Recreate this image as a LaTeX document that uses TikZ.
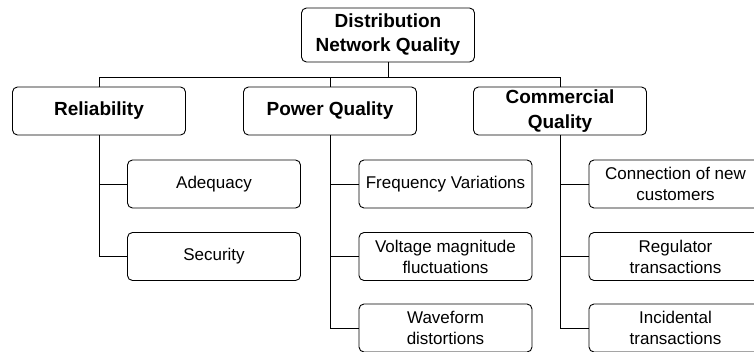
\documentclass[tikz,border=0pt]{standalone}
\usepackage{fontspec}
\setmainfont{Liberation Sans}
\usepackage{tikz}

\begin{document}
\begin{tikzpicture}[
  x=1pt, y=-1pt,
  box/.style={draw, line width=0.9pt, rounded corners=5pt, inner sep=0pt, align=center, fill=white},
  topbox/.style={box, minimum width=173pt, minimum height=54pt, font=\fontsize{19}{24}\selectfont\bfseries},
  catbox/.style={box, minimum width=173pt, minimum height=48pt, font=\fontsize{19}{25}\selectfont\bfseries},
  itembox/.style={box, minimum width=173pt, minimum height=48pt, font=\fontsize{17}{21}\selectfont},
  link/.style={draw, line width=0.9pt},
]
\useasboundingbox (0,0) rectangle (754,351);
\clip (0,0) rectangle (754,351);

\node[topbox] (dnq) at (388,35) {Distribution\\Network Quality};

\node[catbox] (rel) at (99,111) {Reliability};
\node[catbox] (pq) at (330,111) {Power Quality};
\node[catbox] (cq) at (560,111) {Commercial\\Quality};

\node[itembox] (ade) at (214,184) {Adequacy};
\node[itembox] (sec) at (214,256.5) {Security};

\node[itembox] (fv) at (445.5,184) {Frequency Variations};
\node[itembox] (vm) at (445.5,256.5) {Voltage magnitude\\fluctuations};
\node[itembox] (wd) at (445.5,328) {Waveform\\distortions};

\node[itembox] (cnc) at (675.5,184) {Connection of new\\customers};
\node[itembox] (rt) at (675.5,256.5) {Regulator\\transactions};
\node[itembox] (it) at (675.5,328) {Incidental\\transactions};

\coordinate (bus) at (0,77);
\draw[link] (dnq.south) -- (dnq.south |- bus);
\draw[link] (rel.north) -- (rel.north |- bus) -| (cq.north);
\draw[link] (pq.north) -- (pq.north |- bus);

\foreach \n in {ade,sec} \draw[link] (rel.south) |- (\n.west);
\foreach \n in {fv,vm,wd} \draw[link] (pq.south) |- (\n.west);
\foreach \n in {cnc,rt,it} \draw[link] (cq.south) |- (\n.west);
\end{tikzpicture}
\end{document}
